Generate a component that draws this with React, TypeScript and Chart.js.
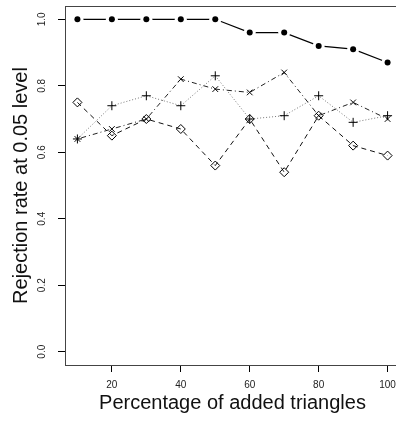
import React, { useEffect, useRef } from "react";
import { Chart, registerables } from "chart.js";

Chart.register(...registerables);

const percentages = [10, 20, 30, 40, 50, 60, 70, 80, 90, 100];
const seriesDots = [1.0, 1.0, 1.0, 1.0, 1.0, 0.96, 0.96, 0.92, 0.91, 0.87];
const seriesPlus = [0.64, 0.74, 0.77, 0.74, 0.83, 0.7, 0.71, 0.77, 0.69, 0.71];
const seriesCross = [0.64, 0.67, 0.7, 0.82, 0.79, 0.78, 0.84, 0.71, 0.75, 0.7];
const seriesDiamond = [0.75, 0.65, 0.7, 0.67, 0.56, 0.7, 0.54, 0.71, 0.62, 0.59];
const xTicks = [20, 40, 60, 80, 100];
const yTicks = [0.0, 0.2, 0.4, 0.6, 0.8, 1.0];
const xLabel = "Percentage of added triangles";
const yLabel = "Rejection rate at 0.05 level";

const FONT = "'Liberation Sans', Arial, Helvetica, sans-serif";

const toPoints = (ys: number[]) => percentages.map((x, i) => ({ x, y: ys[i] }));

const boxPlugin = {
  id: "boxPlugin",
  afterDraw(chart: any) {
    const { ctx, chartArea } = chart;
    ctx.save();
    ctx.strokeStyle = "#444";
    ctx.lineWidth = 1;
    ctx.strokeRect(
      Math.round(chartArea.left) + 0.5,
      Math.round(chartArea.top) + 0.5,
      Math.round(chartArea.right - chartArea.left),
      Math.round(chartArea.bottom - chartArea.top)
    );
    ctx.restore();
  },
};

export default function App() {
  const ref = useRef<HTMLCanvasElement | null>(null);

  useEffect(() => {
    if (!ref.current) return;
    const chart = new Chart(ref.current, {
      type: "scatter",
      data: {
        datasets: [
          {
            label: "dots-markers",
            data: toPoints(seriesDots),
            showLine: false,
            pointStyle: "circle",
            pointRadius: 3,
            pointBackgroundColor: "#000",
            pointBorderColor: "#000",
            pointBorderWidth: 0,
            order: 0,
          },
          {
            label: "dots-line",
            data: toPoints(seriesDots),
            showLine: true,
            borderColor: "#000",
            borderWidth: 1.2,
            pointStyle: "circle",
            pointRadius: 6,
            pointBackgroundColor: "#fff",
            pointBorderColor: "#fff",
            pointBorderWidth: 0,
            order: 1,
          },
          {
            label: "plus",
            data: toPoints(seriesPlus),
            showLine: true,
            borderColor: "#777",
            borderWidth: 1,
            borderDash: [1, 2],
            pointStyle: "cross",
            pointRadius: 4.5,
            pointBorderColor: "#000",
            pointBorderWidth: 1,
            order: 2,
          },
          {
            label: "cross",
            data: toPoints(seriesCross),
            showLine: true,
            borderColor: "#222",
            borderWidth: 1,
            borderDash: [1, 3, 5, 3],
            pointStyle: "crossRot",
            pointRadius: 4,
            pointBorderColor: "#000",
            pointBorderWidth: 1,
            order: 3,
          },
          {
            label: "diamond",
            data: toPoints(seriesDiamond),
            showLine: true,
            borderColor: "#111",
            borderWidth: 1,
            borderDash: [5, 4],
            pointStyle: "rectRot",
            pointRadius: 4.5,
            pointBackgroundColor: "rgba(0,0,0,0)",
            pointBorderColor: "#000",
            pointBorderWidth: 1,
            order: 4,
          },
        ],
      },
      options: {
        responsive: false,
        animation: false,
        devicePixelRatio: 1,
        layout: { padding: { top: 6, right: 1, left: 0, bottom: 0 } },
        plugins: {
          legend: { display: false },
          tooltip: { enabled: false },
        },
        scales: {
          x: {
            type: "linear",
            min: 6.4,
            max: 103.6,
            afterBuildTicks: (scale: any) => {
              scale.ticks = xTicks.map((v) => ({ value: v }));
            },
            afterFit: (scale: any) => {
              scale.height = 57;
              scale.paddingLeft = 0;
              scale.paddingRight = 0;
            },
            grid: {
              display: true,
              drawOnChartArea: false,
              drawTicks: true,
              tickLength: 7,
              tickColor: "#000",
              tickWidth: 1,
            },
            border: { display: true, color: "#222", width: 1 },
            ticks: {
              padding: 7,
              color: "#222",
              font: { family: FONT, size: 10 },
              maxRotation: 0,
              minRotation: 0,
              callback: (v: any) => String(v),
            },
            title: {
              display: true,
              text: xLabel,
              color: "#111",
              font: { family: FONT, size: 20 },
              padding: { top: 0, bottom: 6.5 },
            },
          },
          y: {
            type: "linear",
            min: -0.04,
            max: 1.04,
            afterBuildTicks: (scale: any) => {
              scale.ticks = yTicks.map((v) => ({ value: v }));
            },
            afterFit: (scale: any) => {
              scale.width = 65;
              scale.paddingTop = 0;
              scale.paddingBottom = 0;
            },
            grid: {
              display: true,
              drawOnChartArea: false,
              drawTicks: true,
              tickLength: 7,
              tickColor: "#000",
              tickWidth: 1,
            },
            border: { display: true, color: "#222", width: 1 },
            ticks: {
              padding: 9,
              color: "#222",
              font: { family: FONT, size: 10 },
              minRotation: 90,
              maxRotation: 90,
              crossAlign: "center",
              callback: (v: any) => Number(v).toFixed(1),
            },
            title: {
              display: true,
              text: yLabel,
              color: "#111",
              font: { family: FONT, size: 20 },
              padding: { top: 9.5, bottom: 0 },
            },
          },
        },
      },
      plugins: [boxPlugin],
    });
    return () => chart.destroy();
  }, []);

  return (
    <div
      style={{
        position: "fixed",
        left: 0,
        top: 0,
        width: 396,
        height: 422,
        overflow: "hidden",
        background: "#fff",
      }}
    >
      <div style={{ width: 406, height: 422 }}>
        <canvas ref={ref} width={406} height={422} style={{ display: "block" }} />
      </div>
    </div>
  );
}
